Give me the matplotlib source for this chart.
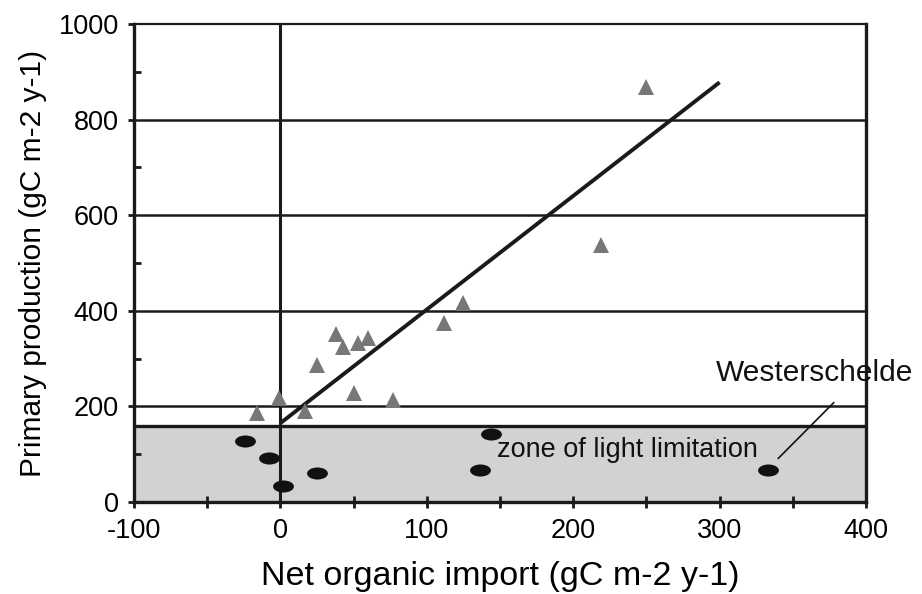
import matplotlib
matplotlib.use("Agg")
import matplotlib.pyplot as plt
import numpy as np
from matplotlib.path import Path
from matplotlib.patches import Rectangle
from matplotlib.ticker import MultipleLocator

plt.rcParams['font.family'] = ['Liberation Sans', 'DejaVu Sans']
plt.rcParams['axes.unicode_minus'] = False

# Data
tri_x = [-16, -1, 17, 25, 38, 43, 53, 60, 50, 77, 112, 125, 219, 250]
tri_y = [186, 217, 190, 286, 351, 324, 333, 344, 227, 213, 375, 416, 537, 868]
ell_x = [-24, -8, 2, 25, 144, 136, 333]
ell_y = [128, 92, 34, 61, 143, 66, 67]
fit_x = [0, 300]
fit_y = [165, 878]
grid_y = [200, 400, 600, 800]
zone_top = 160
x_range = [-100, 400]
y_range = [0, 1000]

fig = plt.figure(figsize=(9.22, 5.94), dpi=100)
ax = fig.add_axes([134/922, 1-502/594, 732/922, 478/594])
ax.set_xlim(x_range)
ax.set_ylim(y_range)

# zone of light limitation
ax.add_patch(Rectangle((x_range[0], 0), x_range[1]-x_range[0], zone_top,
                       facecolor='#d1d2d4', edgecolor='none', zorder=1))
ax.axhline(zone_top, color='#1a1a1a', lw=2.4, zorder=2)
for g in grid_y:
    ax.axhline(g, color='#1a1a1a', lw=1.8, zorder=2)
ax.axvline(0, color='#1a1a1a', lw=2.2, zorder=2)

ax.plot(fit_x, fit_y, color='#1a1a1a', lw=2.8, solid_capstyle='butt', zorder=3)

ax.plot(tri_x, tri_y, linestyle='none', marker='^', markersize=11,
        color='#777777', markeredgewidth=0, zorder=4)

circ = Path.unit_circle()
ell_marker = Path(circ.vertices * np.array([1.0, 0.58]), circ.codes)
ax.plot(ell_x, ell_y, linestyle='none', marker=ell_marker, markersize=15,
        color='#111111', markeredgewidth=0, zorder=4)

ax.text(237, 108, 'zone of light limitation', fontsize=19.5, ha='center',
        va='center', color='#111111', zorder=5)
ax.text(365, 270, 'Westerschelde', fontsize=21.5, ha='center', va='center',
        color='#111111', clip_on=False, zorder=5)
ax.annotate('', xy=(340, 91), xytext=(378, 208),
            arrowprops=dict(arrowstyle='-', lw=1.2, color='#111111',
                            shrinkA=0, shrinkB=0), zorder=5)

# spines
for s in ['left', 'bottom', 'right']:
    ax.spines[s].set_linewidth(2.4)
    ax.spines[s].set_color('#1a1a1a')
ax.spines['top'].set_linewidth(1.6)
ax.spines['top'].set_color('#1a1a1a')

ax.xaxis.set_major_locator(MultipleLocator(100))
ax.xaxis.set_minor_locator(MultipleLocator(50))
ax.yaxis.set_major_locator(MultipleLocator(200))
ax.yaxis.set_minor_locator(MultipleLocator(100))
ax.tick_params(axis='x', which='both', direction='inout', length=9, width=2.0,
               color='#1a1a1a', top=False)
ax.tick_params(axis='x', which='major', labelsize=19.5, pad=7)
ax.tick_params(axis='y', which='major', direction='out', length=4, width=2.0,
               labelsize=19.5, pad=7, color='#1a1a1a', right=False)
ax.tick_params(axis='y', which='minor', direction='in', length=5, width=2.0,
               color='#1a1a1a', right=False)

ax.set_xlabel('Net organic import (gC m-2 y-1)', fontsize=24.5, labelpad=12)
ax.set_ylabel('Primary production (gC m-2 y-1)', fontsize=21.5, labelpad=8)

fig.savefig('out.png', dpi=100)
